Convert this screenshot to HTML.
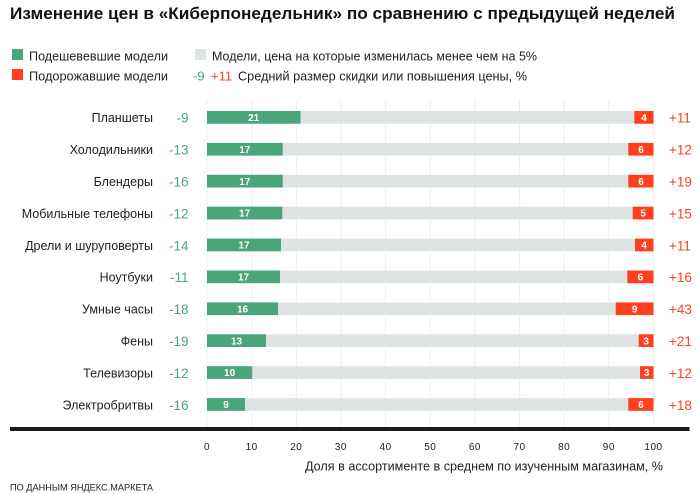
<!DOCTYPE html>
<html><head><meta charset="utf-8"><style>
html,body{margin:0;padding:0;background:#fff;}
svg{display:block;}
text{font-family:"Liberation Sans","DejaVu Sans",sans-serif;}
</style></head><body>
<svg width="700" height="494" viewBox="0 0 700 494" xmlns="http://www.w3.org/2000/svg">
<rect width="700" height="494" fill="#fff"/>
<text x="10" y="19" font-size="17" font-weight="bold" fill="#111" textLength="665" lengthAdjust="spacingAndGlyphs">Изменение цен в «Киберпонедельник» по сравнению с предыдущей неделей</text>

<rect x="12" y="49" width="11" height="11" fill="#4aa57b"/>
<text x="29" y="60.5" font-size="13" fill="#222" textLength="139" lengthAdjust="spacingAndGlyphs">Подешевевшие модели</text>
<rect x="12" y="69" width="11" height="11" fill="#ff3f1f"/>
<text x="29" y="80.5" font-size="13" fill="#222" textLength="139" lengthAdjust="spacingAndGlyphs">Подорожавшие модели</text>
<rect x="195" y="49" width="11" height="11" fill="#dee4e3"/>
<text x="212" y="60.5" font-size="13" fill="#222" textLength="325" lengthAdjust="spacingAndGlyphs">Модели, цена на которые изменилась менее чем на 5%</text>
<text x="193" y="80.5" font-size="13" fill="#4aa57b">-9</text>
<text x="211" y="80.5" font-size="13" fill="#ff3f1f">+11</text>
<text x="238" y="80.5" font-size="13" fill="#222" textLength="289" lengthAdjust="spacingAndGlyphs">Средний размер скидки или повышения цены, %</text>

<g stroke="#efefef" stroke-width="1">
<line x1="207" y1="100" x2="207" y2="427"/>
<line x1="251.65" y1="100" x2="251.65" y2="427"/>
<line x1="296.3" y1="100" x2="296.3" y2="427"/>
<line x1="340.95" y1="100" x2="340.95" y2="427"/>
<line x1="385.6" y1="100" x2="385.6" y2="427"/>
<line x1="430.25" y1="100" x2="430.25" y2="427"/>
<line x1="474.9" y1="100" x2="474.9" y2="427"/>
<line x1="519.55" y1="100" x2="519.55" y2="427"/>
<line x1="564.2" y1="100" x2="564.2" y2="427"/>
<line x1="608.85" y1="100" x2="608.85" y2="427"/>
<line x1="653.5" y1="100" x2="653.5" y2="427"/>
</g>

<g font-size="12.5" fill="#222" text-anchor="end">
<text x="153" y="122">Планшеты</text>
<text x="153" y="154">Холодильники</text>
<text x="153" y="186">Блендеры</text>
<text x="153" y="218">Мобильные телефоны</text>
<text x="153" y="250">Дрели и шуруповерты</text>
<text x="153" y="281.5">Ноутбуки</text>
<text x="153" y="313.5">Умные часы</text>
<text x="153" y="345.5">Фены</text>
<text x="153" y="377.5">Телевизоры</text>
<text x="153" y="409.5">Электробритвы</text>
</g>
<g font-size="13.5" fill="#4aa57b" text-anchor="end">
<text x="188.5" y="122.5">-9</text>
<text x="188.5" y="154.5">-13</text>
<text x="188.5" y="186.5">-16</text>
<text x="188.5" y="218.5">-12</text>
<text x="188.5" y="250.5">-14</text>
<text x="188.5" y="282">-11</text>
<text x="188.5" y="314">-18</text>
<text x="188.5" y="346">-19</text>
<text x="188.5" y="378">-12</text>
<text x="188.5" y="410">-16</text>
</g>
<g font-size="13.5" fill="#ff3f1f">
<text x="669" y="122.5">+11</text>
<text x="669" y="154.5">+12</text>
<text x="669" y="186.5">+19</text>
<text x="669" y="218.5">+15</text>
<text x="669" y="250.5">+11</text>
<text x="669" y="282">+16</text>
<text x="669" y="314">+43</text>
<text x="669" y="346">+21</text>
<text x="669" y="378">+12</text>
<text x="669" y="410">+18</text>
</g>

<g>
<rect x="207" y="111" width="446.5" height="12.7" fill="#dee4e3"/>
<rect x="207" y="111" width="93.5" height="12.7" fill="#4aa57b"/>
<rect x="634.3" y="111" width="19.2" height="12.7" fill="#ff3f1f"/>

<rect x="207" y="142.9" width="446.5" height="12.7" fill="#dee4e3"/>
<rect x="207" y="142.9" width="75.7" height="12.7" fill="#4aa57b"/>
<rect x="628.3" y="142.9" width="25.2" height="12.7" fill="#ff3f1f"/>

<rect x="207" y="174.8" width="446.5" height="12.7" fill="#dee4e3"/>
<rect x="207" y="174.8" width="75.7" height="12.7" fill="#4aa57b"/>
<rect x="628.3" y="174.8" width="25.2" height="12.7" fill="#ff3f1f"/>

<rect x="207" y="206.7" width="446.5" height="12.7" fill="#dee4e3"/>
<rect x="207" y="206.7" width="75.3" height="12.7" fill="#4aa57b"/>
<rect x="632.7" y="206.7" width="20.8" height="12.7" fill="#ff3f1f"/>

<rect x="207" y="238.6" width="446.5" height="12.7" fill="#dee4e3"/>
<rect x="207" y="238.6" width="74" height="12.7" fill="#4aa57b"/>
<rect x="635" y="238.6" width="18.5" height="12.7" fill="#ff3f1f"/>

<rect x="207" y="270.5" width="446.5" height="12.7" fill="#dee4e3"/>
<rect x="207" y="270.5" width="73" height="12.7" fill="#4aa57b"/>
<rect x="627.3" y="270.5" width="26.2" height="12.7" fill="#ff3f1f"/>

<rect x="207" y="302.4" width="446.5" height="12.7" fill="#dee4e3"/>
<rect x="207" y="302.4" width="71" height="12.7" fill="#4aa57b"/>
<rect x="615.7" y="302.4" width="37.8" height="12.7" fill="#ff3f1f"/>

<rect x="207" y="334.3" width="446.5" height="12.7" fill="#dee4e3"/>
<rect x="207" y="334.3" width="59" height="12.7" fill="#4aa57b"/>
<rect x="638.7" y="334.3" width="14.8" height="12.7" fill="#ff3f1f"/>

<rect x="207" y="366.2" width="446.5" height="12.7" fill="#dee4e3"/>
<rect x="207" y="366.2" width="45.3" height="12.7" fill="#4aa57b"/>
<rect x="640" y="366.2" width="13.5" height="12.7" fill="#ff3f1f"/>

<rect x="207" y="398.1" width="446.5" height="12.7" fill="#dee4e3"/>
<rect x="207" y="398.1" width="38" height="12.7" fill="#4aa57b"/>
<rect x="628.3" y="398.1" width="25.2" height="12.7" fill="#ff3f1f"/>
</g>

<g font-size="10" font-weight="600" fill="#fff" text-anchor="middle">
<text x="253.7" y="121">21</text>
<text x="644" y="121">4</text>
<text x="244.8" y="152.9">17</text>
<text x="641" y="152.9">6</text>
<text x="244.8" y="184.8">17</text>
<text x="641" y="184.8">6</text>
<text x="244.6" y="216.7">17</text>
<text x="643.1" y="216.7">5</text>
<text x="244" y="248.6">17</text>
<text x="644.2" y="248.6">4</text>
<text x="243.5" y="280.5">17</text>
<text x="640.4" y="280.5">6</text>
<text x="242.5" y="312.4">16</text>
<text x="634.6" y="312.4">9</text>
<text x="236.5" y="344.3">13</text>
<text x="646.1" y="344.3">3</text>
<text x="229.6" y="376.2">10</text>
<text x="646.7" y="376.2">3</text>
<text x="226" y="408.1">9</text>
<text x="641" y="408.1">6</text>
</g>

<rect x="10" y="427" width="679.5" height="4" fill="#1a1a1a"/>

<g font-size="10" fill="#222" text-anchor="middle" letter-spacing="0.5">
<text x="207" y="450">0</text>
<text x="251.65" y="450">10</text>
<text x="296.3" y="450">20</text>
<text x="340.95" y="450">30</text>
<text x="385.6" y="450">40</text>
<text x="430.25" y="450">50</text>
<text x="474.9" y="450">60</text>
<text x="519.55" y="450">70</text>
<text x="564.2" y="450">80</text>
<text x="608.85" y="450">90</text>
<text x="653.5" y="450">100</text>
</g>
<text x="305" y="470.5" font-size="13" fill="#222" textLength="358" lengthAdjust="spacingAndGlyphs">Доля в ассортименте в среднем по изученным магазинам, %</text>
<text x="10" y="490.5" font-size="9" fill="#222" textLength="143" lengthAdjust="spacingAndGlyphs">ПО ДАННЫМ ЯНДЕКС.МАРКЕТА</text>
</svg>
</body></html>
